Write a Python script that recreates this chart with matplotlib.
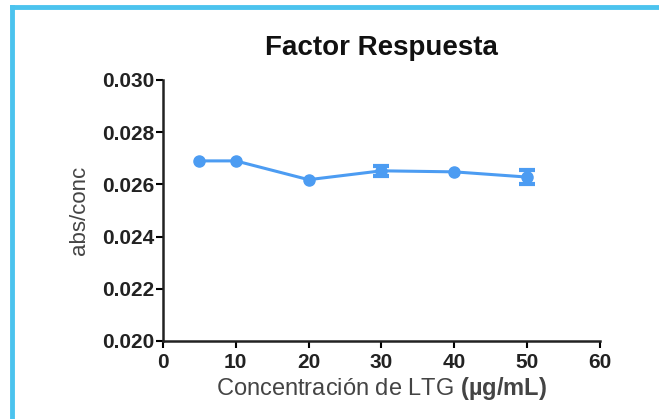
import matplotlib
matplotlib.use("Agg")
import matplotlib.pyplot as plt
from matplotlib.lines import Line2D

plt.rcParams['font.family'] = ['Liberation Sans', 'DejaVu Sans']
plt.rcParams['mathtext.fontset'] = 'custom'
plt.rcParams['mathtext.rm'] = 'Liberation Sans'
plt.rcParams['mathtext.bf'] = 'Liberation Sans:bold'

conc = [5, 10, 20, 30, 40, 50]
factor = [0.02690, 0.02690, 0.02618, 0.02652, 0.02648, 0.02628]
err = [0.0, 0.0, 0.0, 0.00018, 0.0, 0.00026]
xticks = [0, 10, 20, 30, 40, 50, 60]
yticks = [0.020, 0.022, 0.024, 0.026, 0.028, 0.030]

color = '#4C9CF2'

fig = plt.figure(figsize=(6.59, 4.19), dpi=100)
ax = fig.add_axes([0.2473, 0.1862, 0.9105 - 0.2473, 0.8091 - 0.1862])

# line + markers
ax.plot(conc, factor, color=color, marker='o', markersize=8, linewidth=2.2,
        clip_on=False, zorder=3)
# error bars only where visible
ex = [c for c, e in zip(conc, err) if e > 0]
ey = [f for f, e in zip(factor, err) if e > 0]
ee = [e for e in err if e > 0]
ax.errorbar(ex, ey, yerr=ee, fmt='none', ecolor=color, elinewidth=3,
            capsize=5.5, capthick=3, clip_on=False, zorder=2)

ax.set_xlim(0, 60)
ax.set_ylim(0.020, 0.030)
ax.set_xticks(xticks)
ax.set_yticks(yticks)
ax.set_xticklabels([str(t) for t in xticks], fontweight='bold', fontsize=15, color='#222222')
ax.set_yticklabels([f"{t:.3f}" for t in yticks], fontweight='bold', fontsize=15, color='#222222')
ax.tick_params(direction='out', length=5, width=1.5)
ax.tick_params(axis='x', pad=4)
ax.tick_params(axis='y', pad=1)
for s in ['top', 'right']:
    ax.spines[s].set_visible(False)
for s in ['left', 'bottom']:
    ax.spines[s].set_linewidth(1.8)
    ax.spines[s].set_color('#222222')

ax.set_title('Factor Respuesta', fontsize=20, fontweight='bold', pad=18, color='#111111')
ax.set_xlabel(r'Concentración de LTG $\mathbf{(µg/mL)}$', fontsize=17, color='#444444', labelpad=2)
ax.set_ylabel('abs/conc', fontsize=16, color='#444444', labelpad=9)

# Light blue frame (top and left edges)
fig.add_artist(Line2D([12/659, 1.0], [1 - 7.5/419, 1 - 7.5/419], transform=fig.transFigure,
                      color='#4CC3EE', linewidth=3.5))
fig.add_artist(Line2D([12/659, 12/659], [0.0, 1 - 7.5/419], transform=fig.transFigure,
                      color='#4CC3EE', linewidth=3.5))

fig.savefig('out.png', dpi=100)
